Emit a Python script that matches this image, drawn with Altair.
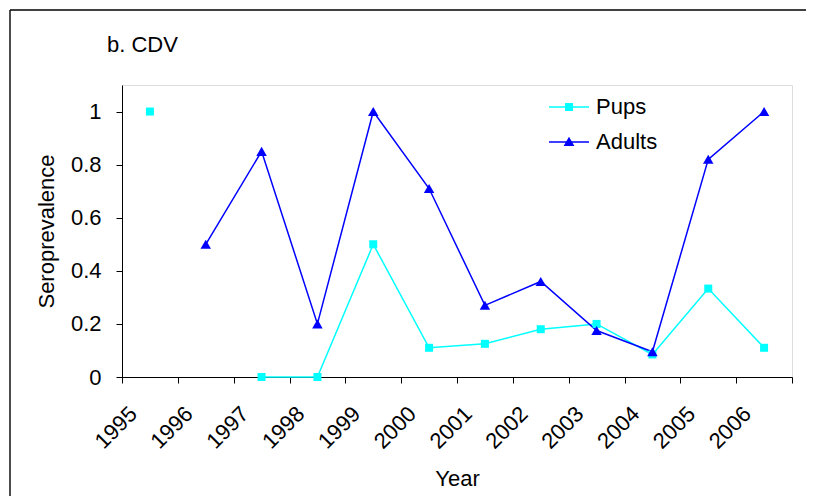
import altair as alt
import pandas as pd
import numpy as np

years = ["1995", "1996", "1997", "1998", "1999", "2000", "2001",
         "2002", "2003", "2004", "2005", "2006"]
pups = [1.0, None, 0.0, 0.0, 0.5, 0.11, 0.125, 0.18, 0.2, 0.085, 0.333, 0.11]
adults = [None, 0.5, 0.85, 0.2, 1.0, 0.71, 0.27, 0.36, 0.175, 0.095, 0.82, 1.0]
series = ["Pups", "Adults"]
colors = ["#00FFFF", "#0000FF"]
marker_shapes = ["square", "triangle-up"]
marker_sizes = [64, 110]
y_ticks = [0, 0.2, 0.4, 0.6, 0.8, 1.0]
chart_title = "b. CDV"

rows = []
for i, yr in enumerate(years):
    rows.append({"Year": yr, "Series": "Pups", "Value": pups[i] if pups[i] is not None else np.nan})
    rows.append({"Year": yr, "Series": "Adults", "Value": adults[i] if adults[i] is not None else np.nan})
df = pd.DataFrame(rows)

FONT = "Liberation Sans"

x_enc = alt.X("Year:O", sort=years,
              scale=alt.Scale(domain=years, paddingInner=0, paddingOuter=0),
              axis=alt.Axis(title="Year", labelAngle=-45, labelAlign="right",
                            labelBaseline="middle", labelOffset=-17, labelPadding=27,
                            tickBand="extent", tickSize=6, tickColor="black",
                            domainColor="black", labelFont=FONT, labelFontSize=22,
                            labelColor="black", titleFont=FONT, titleFontSize=22,
                            titleFontWeight="normal", titleColor="black",
                            titleX=335, titleY=108, titleBaseline="alphabetic",
                            titleAlign="center", grid=False))
y_enc = alt.Y("Value:Q", scale=alt.Scale(domain=[0, 1.1], nice=False, zero=True),
              axis=alt.Axis(title="Seroprevalence", values=y_ticks, format=".1~f",
                            tickSize=6, tickColor="black", domainColor="black",
                            labelPadding=15, labelFont=FONT, labelFontSize=22,
                            labelColor="black", titleFont=FONT, titleFontSize=22,
                            titleFontWeight="normal", titleColor="black",
                            titleAngle=270, titleX=-76, titleY=146,
                            titleAlign="center", titleBaseline="middle", grid=False))

layers = []
for s, c, shp, sz in zip(series, colors, marker_shapes, marker_sizes):
    sub = df[df["Series"] == s]
    layers.append(alt.Chart(sub).mark_line(strokeWidth=1.5, color=c,
                                           invalid="break-paths-show-domains").encode(x=x_enc, y=y_enc))
for s, c, shp, sz in zip(series, colors, marker_shapes, marker_sizes):
    sub = df[df["Series"] == s]
    layers.append(alt.Chart(sub).mark_point(filled=True, opacity=1, color=c, shape=shp,
                                            size=sz).encode(x=x_enc, y=y_enc))

sq_path = "M-1,-0.04H1V0.04H-1Z M-0.2,-0.2H0.2V0.2H-0.2Z"
tri_path = "M-1,-0.04H1V0.04H-1Z M0,-0.26L0.27,0.2H-0.27Z"

leg = alt.Legend(title=None, orient="none", legendX=427, legendY=2,
                 symbolSize=1600, symbolStrokeWidth=0, symbolOpacity=1,
                 labelFont=FONT, labelFontSize=22, labelColor="black",
                 labelOffset=7, rowPadding=4)

legend_layer = alt.Chart(df).transform_filter("false").mark_point(filled=True, opacity=1).encode(
    x=x_enc, y=y_enc,
    color=alt.Color("Series:N", scale=alt.Scale(domain=series, range=colors), legend=leg),
    shape=alt.Shape("Series:N", scale=alt.Scale(domain=series, range=[sq_path, tri_path]), legend=leg),
)
layers.append(legend_layer)

title_layer = alt.Chart(pd.DataFrame({"t": [chart_title]})).mark_text(
    align="left", baseline="alphabetic", font=FONT, fontSize=22, color="black"
).encode(text="t:N", x=alt.value(-15), y=alt.value(-33))
layers.append(title_layer)

frame_top = alt.Chart(pd.DataFrame({"a": [0]})).mark_rule(color="black", strokeWidth=1.4).encode(
    x=alt.value(-112), x2=alt.value(684), y=alt.value(-75))
frame_left = alt.Chart(pd.DataFrame({"a": [0]})).mark_rule(color="black", strokeWidth=1.4).encode(
    x=alt.value(-112), y=alt.value(-75), y2=alt.value(411))
layers += [frame_top, frame_left]

chart = alt.layer(*layers).properties(
    width=670, height=292,
    autosize="none",
    padding={"left": 114, "top": 77, "right": 14, "bottom": 119},
).configure_view(stroke=None).configure(background="white")

chart.save("out.html", embed_options={"renderer": "svg", "actions": False})
